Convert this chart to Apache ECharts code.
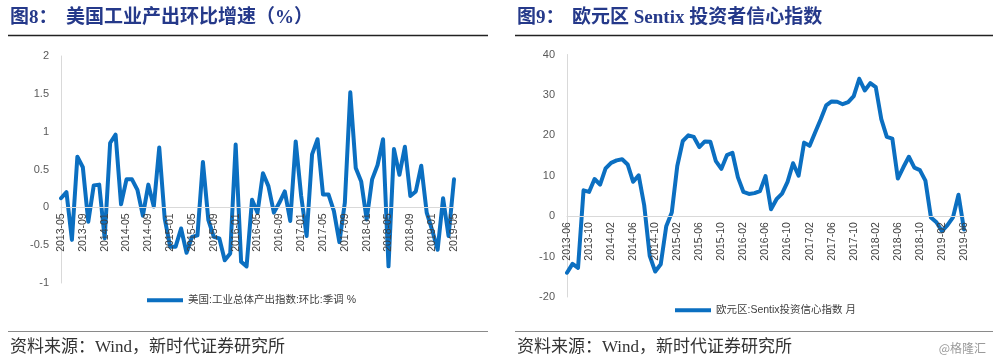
<!DOCTYPE html>
<html>
<head>
<meta charset="utf-8">
<script src="https://cdn.jsdelivr.net/npm/echarts@6/dist/echarts.min.js"></script>
<style>
html,body{margin:0;padding:0;background:#fff;}
#c{width:1000px;height:364px;}
</style>
</head>
<body>
<div id="c"></div>
<script>
// ---- Left chart: 美国工业产出环比增速 ----
const usMonths = [
'2013-05','2013-06','2013-07','2013-08','2013-09','2013-10','2013-11','2013-12',
'2014-01','2014-02','2014-03','2014-04','2014-05','2014-06','2014-07','2014-08','2014-09','2014-10','2014-11','2014-12',
'2015-01','2015-02','2015-03','2015-04','2015-05','2015-06','2015-07','2015-08','2015-09','2015-10','2015-11','2015-12',
'2016-01','2016-02','2016-03','2016-04','2016-05','2016-06','2016-07','2016-08','2016-09','2016-10','2016-11','2016-12',
'2017-01','2017-02','2017-03','2017-04','2017-05','2017-06','2017-07','2017-08','2017-09','2017-10','2017-11','2017-12',
'2018-01','2018-02','2018-03','2018-04','2018-05','2018-06','2018-07','2018-08','2018-09','2018-10','2018-11','2018-12',
'2019-01','2019-02','2019-03','2019-04','2019-05'];
const usIP = [
0.12,0.2,-0.43,0.67,0.53,-0.19,0.29,0.3,
-0.41,0.85,0.96,0.04,0.37,0.37,0.23,-0.11,0.3,0.01,0.79,-0.15,
-0.52,-0.52,-0.28,-0.6,-0.39,-0.37,0.6,-0.17,-0.39,-0.41,-0.7,-0.61,
0.83,-0.72,-0.78,0.1,-0.07,0.45,0.28,-0.07,0.06,0.21,-0.18,0.87,
0.15,-0.38,0.7,0.9,0.17,0.17,-0.05,-0.46,0.06,1.52,0.52,0.34,
-0.16,0.37,0.56,0.9,-0.78,0.77,0.43,0.8,0.15,0.21,0.55,-0.07,
-0.3,-0.56,0.12,-0.38,0.37];
const usName = '美国:工业总体产出指数:环比:季调 %';

// ---- Right chart: 欧元区 Sentix 投资者信心指数 ----
const ezMonths = [
'2013-06','2013-07','2013-08','2013-09','2013-10','2013-11','2013-12',
'2014-01','2014-02','2014-03','2014-04','2014-05','2014-06','2014-07','2014-08','2014-09','2014-10','2014-11','2014-12',
'2015-01','2015-02','2015-03','2015-04','2015-05','2015-06','2015-07','2015-08','2015-09','2015-10','2015-11','2015-12',
'2016-01','2016-02','2016-03','2016-04','2016-05','2016-06','2016-07','2016-08','2016-09','2016-10','2016-11','2016-12',
'2017-01','2017-02','2017-03','2017-04','2017-05','2017-06','2017-07','2017-08','2017-09','2017-10','2017-11','2017-12',
'2018-01','2018-02','2018-03','2018-04','2018-05','2018-06','2018-07','2018-08','2018-09','2018-10','2018-11','2018-12',
'2019-01','2019-02','2019-03','2019-04','2019-05','2019-06'];
const sentix = [
-14,-11.8,-12.8,6.4,6.0,9.2,7.8,
11.8,13.2,13.8,14.1,12.8,8.5,10.1,2.7,-9.8,-13.7,-11.9,-2.5,
0.9,12.4,18.6,20.0,19.6,17.1,18.5,18.4,13.6,11.7,15.1,15.7,
9.6,6.0,5.5,5.7,6.2,9.9,1.7,4.2,5.6,8.5,13.1,10.0,
18.2,17.4,20.7,23.9,27.4,28.4,28.3,27.7,28.2,29.7,34.0,31.1,
32.9,31.9,24.0,19.6,19.2,9.3,12.1,14.7,12.0,11.4,8.8,-0.3,
-1.5,-3.7,-2.2,-0.3,5.3,-3.3];
const ezName = '欧元区:Sentix投资信心指数 月';

const usTicks = [-1, 2, 0.5];   // min, max, interval
const ezTicks = [-20, 40, 10];

const blue = '#0b6fc1';
const navy = '#25398a';
const titleFont = '"Liberation Serif","Noto Sans CJK SC",serif';
const footFont = '"Liberation Serif","Noto Sans CJK SC",serif';
const labelFont = '"Liberation Sans","Noto Sans CJK SC",sans-serif';

const grids = [
  {left:61, top:56, width:393, height:227},
  {left:567, top:54.5, width:397, height:242.5}
];
// distance from grid bottom up to the zero line, so the category axis sits on zero
function zeroOffset(g, t){
  return -(g.height * (0 - t[0]) / (t[1] - t[0]));
}

const chart = echarts.init(document.getElementById('c'), null, {renderer:'canvas'});

function xAxisOf(idx, data, off){
  return {
    type:'category', gridIndex:idx, data:data, boundaryGap:false, position:'bottom', offset:off, z:5,
    axisLine:{onZero:false, lineStyle:{color:'#d9d9d9', width:1}},
    axisTick:{show:false},
    axisLabel:{interval:3, rotate:90, fontSize:10.5, color:'#404040', margin:6, fontFamily:labelFont}
  };
}
function yAxisOf(idx, t){
  return {
    type:'value', gridIndex:idx, min:t[0], max:t[1], interval:t[2],
    axisLine:{show:true, lineStyle:{color:'#d9d9d9', width:1}},
    axisTick:{show:false},
    splitLine:{show:false},
    axisLabel:{fontSize:11, color:'#595959', margin:12, fontFamily:labelFont}
  };
}

const option = {
  animation:false,
  backgroundColor:'#fff',
  grid:grids,
  xAxis:[xAxisOf(0, usMonths, zeroOffset(grids[0], usTicks)), xAxisOf(1, ezMonths, zeroOffset(grids[1], ezTicks))],
  yAxis:[yAxisOf(0, usTicks), yAxisOf(1, ezTicks)],
  legend:[
    {data:[usName], left:142, top:290, itemWidth:36, itemHeight:4, icon:'rect', itemGap:4,
     textStyle:{fontSize:10.5, color:'#404040', fontFamily:labelFont}},
    {data:[ezName], left:670, top:300, itemWidth:36, itemHeight:4, icon:'rect', itemGap:4,
     textStyle:{fontSize:10.5, color:'#404040', fontFamily:labelFont}}
  ],
  series:[
    {name:usName, type:'line', xAxisIndex:0, yAxisIndex:0, data:usIP, symbol:'none', z:2,
     lineStyle:{color:blue, width:4, join:'round', cap:'round'}, itemStyle:{color:blue}},
    {name:ezName, type:'line', xAxisIndex:1, yAxisIndex:1, data:sentix, symbol:'none', z:2,
     lineStyle:{color:blue, width:4, join:'round', cap:'round'}, itemStyle:{color:blue}}
  ],
  graphic:[
    {type:'text', left:10, top:9, style:{text:'图8：', fill:navy, font:'bold 19px '+titleFont}},
    {type:'text', left:66, top:9, style:{text:'美国工业产出环比增速（%）', fill:navy, font:'bold 19px '+titleFont}},
    {type:'text', left:517, top:9, style:{text:'图9：', fill:navy, font:'bold 19px '+titleFont}},
    {type:'text', left:572, top:9, style:{text:'欧元区 Sentix 投资者信心指数', fill:navy, font:'bold 19px '+titleFont}},
    {type:'line', shape:{x1:8, y1:35.5, x2:488, y2:35.5}, style:{stroke:'#222', lineWidth:1.5}},
    {type:'line', shape:{x1:515, y1:35.5, x2:993, y2:35.5}, style:{stroke:'#222', lineWidth:1.5}},
    {type:'line', shape:{x1:8, y1:331.5, x2:488, y2:331.5}, style:{stroke:'#8a8a8a', lineWidth:1.2}},
    {type:'line', shape:{x1:515, y1:331.5, x2:993, y2:331.5}, style:{stroke:'#8a8a8a', lineWidth:1.2}},
    {type:'text', left:10, top:339, style:{text:'资料来源：Wind，新时代证券研究所', fill:'#333', font:'17px '+footFont}},
    {type:'text', left:517, top:339, style:{text:'资料来源：Wind，新时代证券研究所', fill:'#333', font:'17px '+footFont}},
    {type:'text', right:14, top:342, style:{text:'@格隆汇', fill:'#9a9a9a', font:'12px "Noto Sans CJK SC",sans-serif'}}
  ]
};
chart.setOption(option);
</script>
</body>
</html>
